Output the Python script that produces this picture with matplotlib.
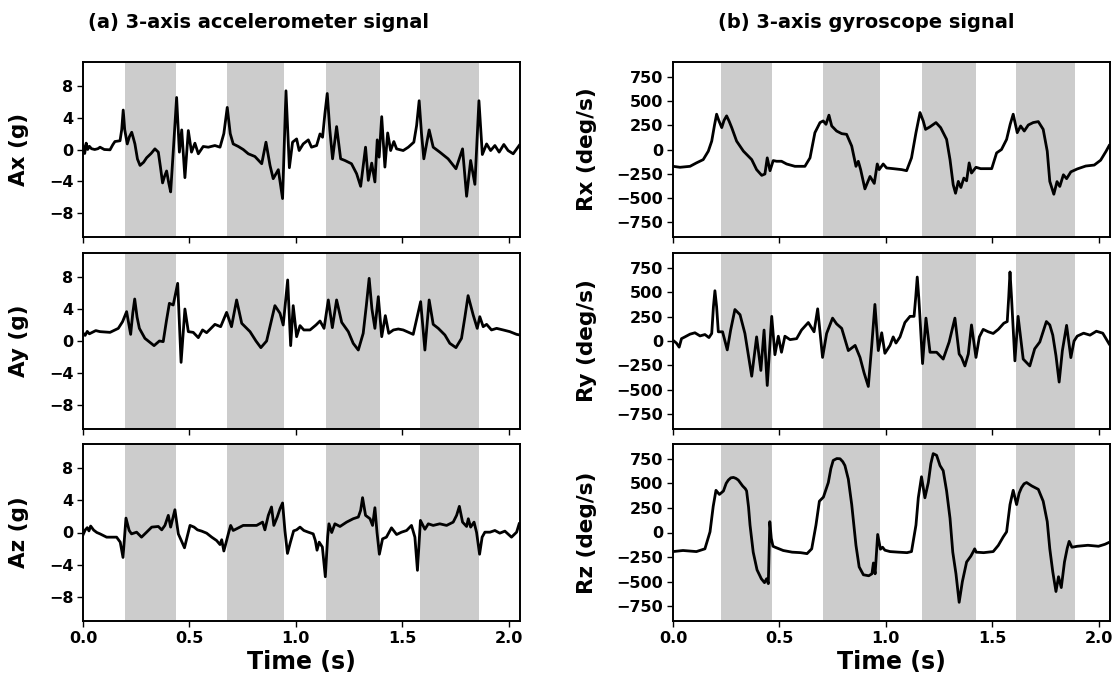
import matplotlib
matplotlib.use("Agg")
import matplotlib.pyplot as plt

plt.rcParams['font.family'] = ['DejaVu Sans']
plt.rcParams['font.weight'] = 'bold'

# ---------------- data ----------------
AX = [(0.0, 0.5), (0.008, -0.5), (0.015, 0.8), (0.022, 0.0), (0.03, 0.4), (0.04, 0.1), (0.055, 0.0),
      (0.07, 0.1), (0.08, 0.29), (0.1, 0.0), (0.127, -0.04), (0.14, 0.6), (0.150, 1.0), (0.174, 1.1),
      (0.182, 2.5), (0.189, 4.96), (0.196, 2.5), (0.208, 0.7), (0.218, 1.6), (0.229, 2.17), (0.236, 1.5),
      (0.244, 0.7), (0.256, -1.2), (0.268, -2.0), (0.285, -1.6), (0.299, -1.04), (0.320, -0.5),
      (0.338, 0.08), (0.354, -0.33), (0.364, -2.2), (0.374, -4.2), (0.383, -3.4), (0.393, -2.7),
      (0.403, -4.2), (0.412, -5.33), (0.426, 0.5), (0.440, 6.54), (0.453, -0.33), (0.464, 2.46),
      (0.479, -3.54), (0.495, 2.38), (0.510, -0.33), (0.526, 0.79), (0.542, -0.54), (0.565, 0.38),
      (0.589, 0.29), (0.620, 0.5), (0.644, 0.29), (0.662, 2.0), (0.678, 5.29), (0.692, 2.0),
      (0.706, 0.7), (0.730, 0.38), (0.753, 0.0), (0.777, -0.54), (0.808, -0.88), (0.840, -1.79),
      (0.860, 0.92), (0.879, -2.0), (0.894, -3.67), (0.918, -2.54), (0.938, -6.17), (0.954, 7.38),
      (0.970, -2.29), (0.985, 0.92), (1.004, 1.33), (1.016, -0.13), (1.035, 0.7), (1.059, 1.21),
      (1.074, 0.29), (1.098, 0.5), (1.114, 1.96), (1.126, 1.54), (1.137, 4.5), (1.148, 7.04),
      (1.160, 2.5), (1.173, -1.17), (1.192, 2.88), (1.211, -1.17), (1.231, -1.38), (1.262, -1.79),
      (1.286, -3.04), (1.305, -4.63), (1.328, 0.29), (1.341, -3.88), (1.357, -1.71), (1.372, -4.08),
      (1.383, 1.21), (1.392, -0.96), (1.404, 4.13), (1.419, -2.21), (1.432, 2.08), (1.446, -0.13),
      (1.461, 1.0), (1.474, 0.08), (1.505, -0.13), (1.529, 0.29), (1.555, 0.92), (1.568, 3.0),
      (1.580, 6.13), (1.591, 2.0), (1.602, -1.17), (1.627, 2.46), (1.646, 0.29), (1.677, -0.33),
      (1.716, -1.17), (1.753, -2.42), (1.784, 0.08), (1.803, -5.88), (1.822, -1.38), (1.842, -4.38),
      (1.861, 6.13), (1.877, -0.63), (1.897, 0.7), (1.916, -0.13), (1.936, 0.5), (1.956, -0.33),
      (1.978, 0.63), (1.998, -0.13), (2.022, -0.54), (2.050, 0.5)]

AY = [(0.0, 1.0), (0.01, 0.7), (0.02, 1.2), (0.03, 0.9), (0.045, 1.1), (0.06, 1.3), (0.08, 1.17),
      (0.127, 1.08), (0.166, 1.58), (0.186, 2.42), (0.205, 3.67), (0.224, 0.83), (0.234, 3.5),
      (0.243, 5.25), (0.254, 3.0), (0.265, 1.58), (0.291, 0.33), (0.334, -0.58), (0.359, 0.0),
      (0.377, -0.08), (0.392, 2.5), (0.406, 4.71), (0.424, 4.5), (0.445, 7.21), (0.461, -2.67),
      (0.479, 4.0), (0.495, 1.17), (0.518, 1.08), (0.542, 0.42), (0.562, 1.38), (0.581, 1.04),
      (0.597, 1.46), (0.620, 2.08), (0.647, 1.79), (0.675, 3.58), (0.698, 1.79), (0.722, 5.13),
      (0.746, 2.21), (0.785, 1.17), (0.813, 0.0), (0.836, -0.83), (0.863, 0.0), (0.885, 2.5),
      (0.902, 4.42), (0.926, 3.46), (0.941, 2.0), (0.962, 7.63), (0.976, -0.58), (0.988, 4.42),
      (1.004, 0.54), (1.020, 1.92), (1.038, 1.38), (1.067, 1.38), (1.095, 2.0), (1.114, 2.5),
      (1.133, 1.58), (1.153, 5.13), (1.172, 1.67), (1.192, 5.13), (1.216, 2.33), (1.247, 1.17),
      (1.270, -0.29), (1.294, -1.13), (1.317, 0.96), (1.332, 4.5), (1.345, 7.83), (1.358, 4.0),
      (1.372, 1.58), (1.388, 5.54), (1.404, 0.54), (1.421, 3.17), (1.437, 0.96), (1.459, 1.38),
      (1.482, 1.5), (1.505, 1.38), (1.552, 0.83), (1.587, 4.92), (1.607, -1.13), (1.627, 5.13),
      (1.646, 2.08), (1.670, 1.58), (1.701, 0.75), (1.724, -0.29), (1.753, -0.83), (1.779, 0.33),
      (1.795, 3.0), (1.810, 5.67), (1.834, 3.25), (1.853, 1.58), (1.865, 3.04), (1.881, 1.79),
      (1.897, 2.08), (1.920, 1.38), (1.944, 1.58), (1.975, 1.38), (2.006, 1.17), (2.038, 0.83),
      (2.053, 0.75)]

AZ = [(0.0, -0.3), (0.01, 0.3), (0.02, 0.6), (0.028, 0.2), (0.036, 0.8), (0.05, 0.3), (0.065, 0.0),
      (0.08, -0.17), (0.111, -0.58), (0.158, -0.58), (0.175, -1.2), (0.188, -3.1), (0.202, 1.79),
      (0.217, 0.25), (0.228, -0.17), (0.252, 0.04), (0.275, -0.58), (0.299, 0.04), (0.323, 0.67),
      (0.354, 0.75), (0.370, 0.33), (0.385, 0.88), (0.401, 2.13), (0.412, 0.67), (0.432, 2.83),
      (0.448, -0.17), (0.462, -1.0), (0.477, -1.9), (0.490, -0.5), (0.503, 0.88), (0.522, 0.67),
      (0.538, 0.33), (0.558, 0.17), (0.581, -0.08), (0.605, -0.58), (0.628, -1.0), (0.644, -1.5),
      (0.652, -0.9), (0.662, -2.3), (0.675, -1.0), (0.683, -0.17), (0.694, 0.88), (0.706, 0.25),
      (0.722, 0.46), (0.753, 0.88), (0.784, 0.88), (0.816, 0.88), (0.844, 1.29), (0.855, 0.33),
      (0.871, 2.13), (0.886, 3.17), (0.897, 0.88), (0.913, 1.92), (0.926, 2.96), (0.938, 3.67),
      (0.949, 0.25), (0.961, -2.6), (0.975, -1.2), (0.990, 0.2), (1.004, 0.33), (1.020, 0.67),
      (1.038, 0.25), (1.059, 0.04), (1.082, -0.17), (1.092, -1.0), (1.100, -2.2), (1.110, -1.2),
      (1.125, -1.8), (1.139, -5.5), (1.150, -0.5), (1.156, 1.08), (1.169, 0.0), (1.184, 1.08),
      (1.208, 0.75), (1.239, 1.29), (1.270, 1.71), (1.294, 1.92), (1.305, 2.75), (1.314, 4.33),
      (1.328, 2.13), (1.349, 1.71), (1.361, 0.88), (1.372, 3.08), (1.382, 0.0), (1.393, -2.7),
      (1.408, -0.79), (1.426, -0.58), (1.450, 0.58), (1.474, -0.25), (1.497, 0.04), (1.521, 0.25),
      (1.544, 0.88), (1.560, -0.58), (1.572, -4.7), (1.586, 1.5), (1.607, 0.4), (1.623, 1.08),
      (1.646, 0.88), (1.677, 1.08), (1.709, 0.88), (1.740, 1.29), (1.756, 2.13), (1.769, 3.25),
      (1.784, 1.29), (1.803, 0.75), (1.811, 1.71), (1.822, 0.67), (1.838, 1.29), (1.850, 0.0),
      (1.864, -2.7), (1.876, -0.58), (1.889, 0.04), (1.913, 0.04), (1.936, 0.25), (1.959, -0.08),
      (1.983, 0.17), (2.014, -0.58), (2.038, 0.04), (2.050, 1.08)]

RX = [(0.0, -173), (0.033, -183), (0.080, -173), (0.110, -138), (0.142, -104), (0.166, -17),
      (0.182, 86), (0.195, 250), (0.205, 363), (0.215, 300), (0.229, 225), (0.240, 300), (0.252, 346),
      (0.264, 290), (0.276, 225), (0.299, 86), (0.331, -17), (0.370, -104), (0.393, -207),
      (0.417, -266), (0.432, -252), (0.443, -86), (0.456, -218), (0.471, -114), (0.487, -121),
      (0.510, -121), (0.534, -149), (0.573, -173), (0.620, -173), (0.644, -86), (0.667, 173),
      (0.691, 277), (0.706, 294), (0.719, 259), (0.733, 353), (0.746, 242), (0.769, 190), (0.793, 163),
      (0.816, 156), (0.840, 35), (0.860, -173), (0.871, -121), (0.882, -207), (0.902, -405),
      (0.926, -277), (0.946, -349), (0.960, -149), (0.969, -207), (0.988, -149), (1.004, -190),
      (1.035, -197), (1.075, -207), (1.098, -218), (1.121, -86), (1.142, 173), (1.161, 380),
      (1.176, 294), (1.187, 207), (1.207, 232), (1.236, 277), (1.258, 225), (1.286, 104),
      (1.302, -104), (1.317, -363), (1.328, -450), (1.341, -328), (1.353, -391), (1.367, -294),
      (1.380, -322), (1.392, -138), (1.403, -242), (1.424, -183), (1.446, -197), (1.474, -197),
      (1.498, -197), (1.521, -35), (1.544, 0), (1.568, 104), (1.585, 260), (1.599, 363), (1.618, 173),
      (1.634, 242), (1.651, 190), (1.670, 252), (1.693, 277), (1.717, 287), (1.740, 207), (1.759, -17),
      (1.771, -328), (1.790, -460), (1.805, -330), (1.818, -380), (1.835, -260), (1.850, -300),
      (1.870, -230), (1.900, -200), (1.940, -170), (1.980, -160), (2.010, -110), (2.035, -20),
      (2.050, 40)]

RY = [(0.0, 7), (0.016, -21), (0.029, -63), (0.040, 24), (0.056, 42), (0.080, 70), (0.103, 84),
      (0.127, 52), (0.150, 66), (0.169, 35), (0.182, 77), (0.190, 350), (0.197, 514), (0.205, 350),
      (0.213, 94), (0.233, 94), (0.255, -91), (0.271, 112), (0.291, 322), (0.315, 269), (0.338, 77),
      (0.370, -360), (0.393, 42), (0.413, -301), (0.428, 112), (0.443, -455), (0.464, 252),
      (0.479, -140), (0.495, 49), (0.510, -115), (0.526, 49), (0.550, 14), (0.581, 24), (0.604, 112),
      (0.636, 189), (0.663, 94), (0.680, 329), (0.703, -168), (0.722, 77), (0.750, 234), (0.769, 175),
      (0.793, 129), (0.824, -98), (0.856, -45), (0.879, -168), (0.898, -325), (0.918, -465),
      (0.934, -50), (0.949, 374), (0.965, -98), (0.981, 84), (0.996, -126), (1.020, -45), (1.035, 42),
      (1.048, -21), (1.067, 42), (1.090, 189), (1.114, 252), (1.133, 252), (1.141, 450), (1.148, 654),
      (1.155, 450), (1.161, 234), (1.173, -231), (1.189, 234), (1.208, -115), (1.239, -115),
      (1.270, -185), (1.298, -10), (1.325, 234), (1.345, -133), (1.356, -168), (1.372, -255),
      (1.388, -133), (1.403, 164), (1.424, -168), (1.440, 42), (1.458, 119), (1.482, 94), (1.505, 77),
      (1.529, 119), (1.555, 182), (1.571, 199), (1.578, 450), (1.584, 706), (1.591, 450),
      (1.607, -203), (1.622, 252), (1.646, -185), (1.677, -255), (1.700, -80), (1.724, -10),
      (1.755, 199), (1.771, 164), (1.785, 60), (1.800, -150), (1.815, -420), (1.830, -100),
      (1.850, 160), (1.870, -170), (1.885, 0), (1.900, 50), (1.930, 80), (1.960, 60), (1.990, 100),
      (2.020, 80), (2.050, -30)]

RZ = [(0.0, -194), (0.047, -183), (0.110, -194), (0.150, -166), (0.174, 7), (0.189, 266),
      (0.202, 429), (0.218, 387), (0.237, 422), (0.250, 500), (0.260, 533), (0.272, 556), (0.284, 560),
      (0.296, 550), (0.307, 533), (0.327, 474), (0.340, 445), (0.346, 422), (0.355, 260), (0.362, 76),
      (0.377, -200), (0.395, -380), (0.415, -470), (0.430, -510), (0.440, -470), (0.448, -520),
      (0.455, 110), (0.462, -60), (0.470, -140), (0.479, -149), (0.518, -183), (0.560, -200),
      (0.600, -205), (0.630, -215), (0.652, -166), (0.672, 76), (0.688, 318), (0.707, 360),
      (0.730, 508), (0.742, 650), (0.753, 733), (0.770, 752), (0.785, 750), (0.798, 720), (0.808, 681),
      (0.824, 543), (0.840, 284), (0.860, -131), (0.875, -350), (0.895, -430), (0.920, -440),
      (0.935, -420), (0.942, -310), (0.950, -420), (0.962, -20), (0.975, -170), (0.985, -150),
      (0.996, -180), (1.020, -194), (1.060, -200), (1.100, -205), (1.121, -194), (1.142, 76),
      (1.153, 353), (1.168, 567), (1.184, 353), (1.200, 508), (1.212, 700), (1.223, 802), (1.239, 785),
      (1.255, 681), (1.270, 629), (1.286, 422), (1.302, 145), (1.315, -200), (1.330, -420),
      (1.345, -710), (1.360, -500), (1.380, -300), (1.400, -240), (1.410, -200), (1.418, -166),
      (1.425, -200), (1.460, -205), (1.505, -194), (1.529, -131), (1.552, -45), (1.568, 7),
      (1.584, 284), (1.599, 429), (1.615, 284), (1.627, 400), (1.638, 456), (1.650, 495), (1.662, 508),
      (1.686, 474), (1.717, 439), (1.740, 318), (1.759, 111), (1.771, -166), (1.785, -400),
      (1.800, -600), (1.812, -450), (1.825, -560), (1.840, -300), (1.853, -160), (1.862, -90),
      (1.875, -150), (1.900, -140), (1.950, -130), (2.000, -140), (2.030, -120), (2.050, -100)]

SHADE_ACC = [(0.197, 0.436), (0.676, 0.944), (1.141, 1.394), (1.582, 1.859)]
SHADE_GYR = [(0.225, 0.465), (0.705, 0.972), (1.170, 1.424), (1.612, 1.888)]

ACC_LABELS = ["Ax (g)", "Ay (g)", "Az (g)"]
GYR_LABELS = ["Rx (deg/s)", "Ry (deg/s)", "Rz (deg/s)"]
ACC_TICKS = [8, 4, 0, -4, -8]
GYR_TICKS = [750, 500, 250, 0, -250, -500, -750]
X_TICKS = [0.0, 0.5, 1.0, 1.5, 2.0]
X_TICKLABELS = ["0.0", "0.5", "1.0", "1.5", "2.0"]
TITLES = ["(a) 3-axis accelerometer signal", "(b) 3-axis gyroscope signal"]

# ---------------- figure ----------------
W, H = 1119, 687
fig = plt.figure(figsize=(W / 100, H / 100), dpi=100)

col_left = [83 / W, 673 / W]
col_w = 437 / W
rows = [(62, 237), (253, 429), (444, 621)]

columns = [(AX, AY, AZ), (RX, RY, RZ)]
shades = [SHADE_ACC, SHADE_GYR]
labels = [ACC_LABELS, GYR_LABELS]
yticks = [ACC_TICKS, GYR_TICKS]
ylims = [(-11, 11), (-900, 900)]

for c in range(2):
    for r in range(3):
        top, bot = rows[r]
        ax = fig.add_axes([col_left[c], 1 - bot / H, col_w, (bot - top) / H])
        for a, b in shades[c]:
            ax.axvspan(a, b, color='#cccccc', lw=0, zorder=0)
        t, v = zip(*columns[c][r])
        ax.plot(t, v, color='black', lw=2.0, zorder=2, solid_joinstyle='round')
        ax.set_xlim(0, 2.054)
        ax.set_ylim(*ylims[c])
        ax.set_yticks(yticks[c])
        ax.set_xticks(X_TICKS)
        for s in ax.spines.values():
            s.set_linewidth(1.4)
        ax.tick_params(direction='out', length=4, width=1, labelsize=11.5, pad=3)
        ax.set_ylabel(labels[c][r], fontsize=15.5, fontweight='bold', labelpad=14)
        if r < 2:
            ax.tick_params(axis='x', labelbottom=False)
        else:
            ax.set_xticklabels(X_TICKLABELS)
            ax.set_xlabel("Time (s)", fontsize=17, fontweight='bold', labelpad=3)
        for lab in ax.get_yticklabels() + ax.get_xticklabels():
            lab.set_fontweight('bold')

fig.text(258 / W, 1 - 22 / H, TITLES[0], ha='center', va='center', fontsize=14, fontweight='bold')
fig.text(866 / W, 1 - 22 / H, TITLES[1], ha='center', va='center', fontsize=14, fontweight='bold')

fig.savefig("out.png", dpi=100)
